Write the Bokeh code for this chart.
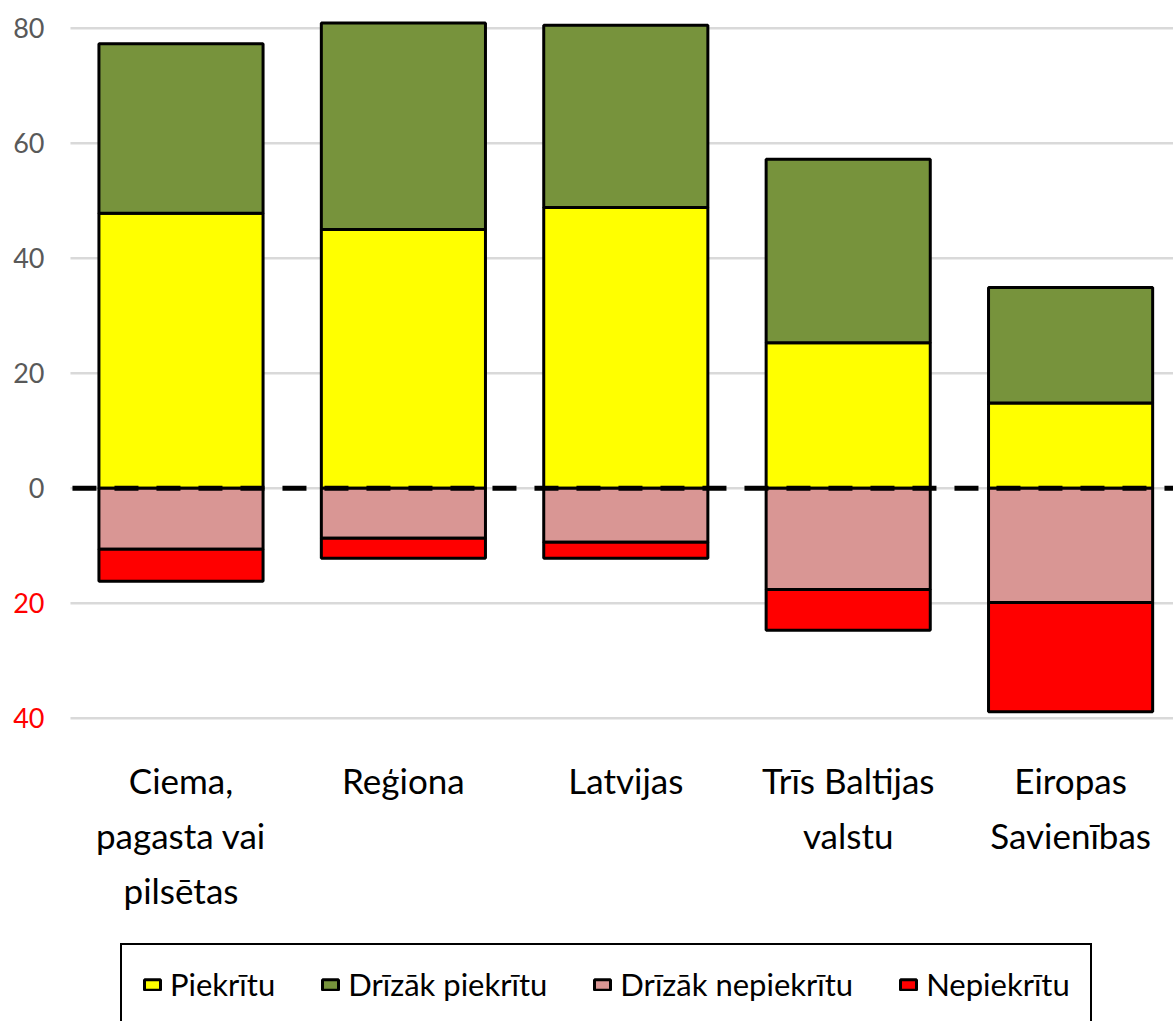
from bokeh.plotting import figure
from bokeh.models import ColumnDataSource, Legend, LegendItem, Range1d
from bokeh.core.properties import value
from bokeh.embed import file_html
from bokeh.resources import INLINE

# ---- data ----
categories = ["Ciema,\npagasta vai\npilsētas", "Reģiona", "Latvijas",
              "Trīs Baltijas\nvalstu", "Eiropas\nSavienības"]
piekritu = [47.8, 45.0, 48.8, 25.3, 14.8]
drizak_piekritu = [29.5, 35.9, 31.7, 31.9, 20.1]
drizak_nepiekritu = [10.6, 8.7, 9.4, 17.6, 19.9]
nepiekritu = [5.6, 3.5, 2.8, 7.1, 19.0]
series_names = ["Piekrītu", "Drīzāk piekrītu", "Drīzāk nepiekrītu", "Nepiekrītu"]
ytick_values = [-40, -20, 0, 20, 40, 60, 80]
ytick_labels = ["40", "20", "0", "20", "40", "60", "80"]

# ---- layout constants ----
W, H = 1173, 1021
X0, X1 = -0.8116, 4.4627
Y0, Y1 = -92.75, 84.82
GRID_X0 = -0.497
DASH_X0 = -0.488
YLAB_X = -0.614
CAT_Y = -47.13
BAR_W = 0.738
FONT = "Lato"

colors = ["#FFFF00", "#77933C", "#D99694", "#FF0000"]

x = list(range(len(categories)))
top1 = [a + b for a, b in zip(piekritu, drizak_piekritu)]
neg1 = [-a for a in drizak_nepiekritu]
neg2 = [-(a + b) for a, b in zip(drizak_nepiekritu, nepiekritu)]

src = ColumnDataSource(dict(
    x=x, zero=[0] * len(x), p=piekritu, top1=top1, neg1=neg1, neg2=neg2))

p = figure(width=W, height=H, x_range=Range1d(X0, X1), y_range=Range1d(Y0, Y1),
           x_axis_type=None, y_axis_type=None, output_backend="svg",
           toolbar_location=None, min_border=0, outline_line_color=None)
p.background_fill_color = "white"
p.border_fill_color = "white"

# gridlines
n = len(ytick_values)
p.segment(x0=[GRID_X0] * n, y0=ytick_values, x1=[X1] * n, y1=ytick_values,
          line_color="#d9d9d9", line_width=2.5)

# bars
bar_kw = dict(width=BAR_W, line_color="black", line_width=3, source=src)
r1 = p.vbar(x="x", bottom="zero", top="p", fill_color=colors[0], **bar_kw)
r2 = p.vbar(x="x", bottom="p", top="top1", fill_color=colors[1], **bar_kw)
r3 = p.vbar(x="x", bottom="neg1", top="zero", fill_color=colors[2], **bar_kw)
r4 = p.vbar(x="x", bottom="neg2", top="neg1", fill_color=colors[3], **bar_kw)

# zero dashed line
p.line(x=[DASH_X0, X1], y=[0, 0], line_color="black", line_width=5, line_dash="24 18")

# y tick labels
ycolors = ["#FF0000" if v < 0 else "#595959" for v in ytick_values]
p.text(x=[YLAB_X] * n, y=ytick_values, text=ytick_labels, text_align="right",
       text_baseline="middle", text_font=value(FONT), text_font_size="27px",
       text_color=ycolors)

# category labels
p.text(x=x, y=[CAT_Y] * len(x), text=categories, text_align="center",
       text_baseline="top", text_font=value(FONT), text_font_size="35px",
       text_color="black", text_line_height=1.31)

legend = Legend(items=[LegendItem(label=nm, renderers=[r]) for nm, r in
                       zip(series_names, [r1, r2, r3, r4])],
                orientation="horizontal", location=(120, -4),
                glyph_width=20, glyph_height=13, label_standoff=8, spacing=45,
                padding=20, label_text_font=FONT, label_text_font_size="31px",
                label_text_color="black", border_line_color="black",
                border_line_alpha=1.0, border_line_width=2.5,
                background_fill_color="white", background_fill_alpha=1.0)
p.add_layout(legend)

open("out.html", "w").write(file_html(p, INLINE))
